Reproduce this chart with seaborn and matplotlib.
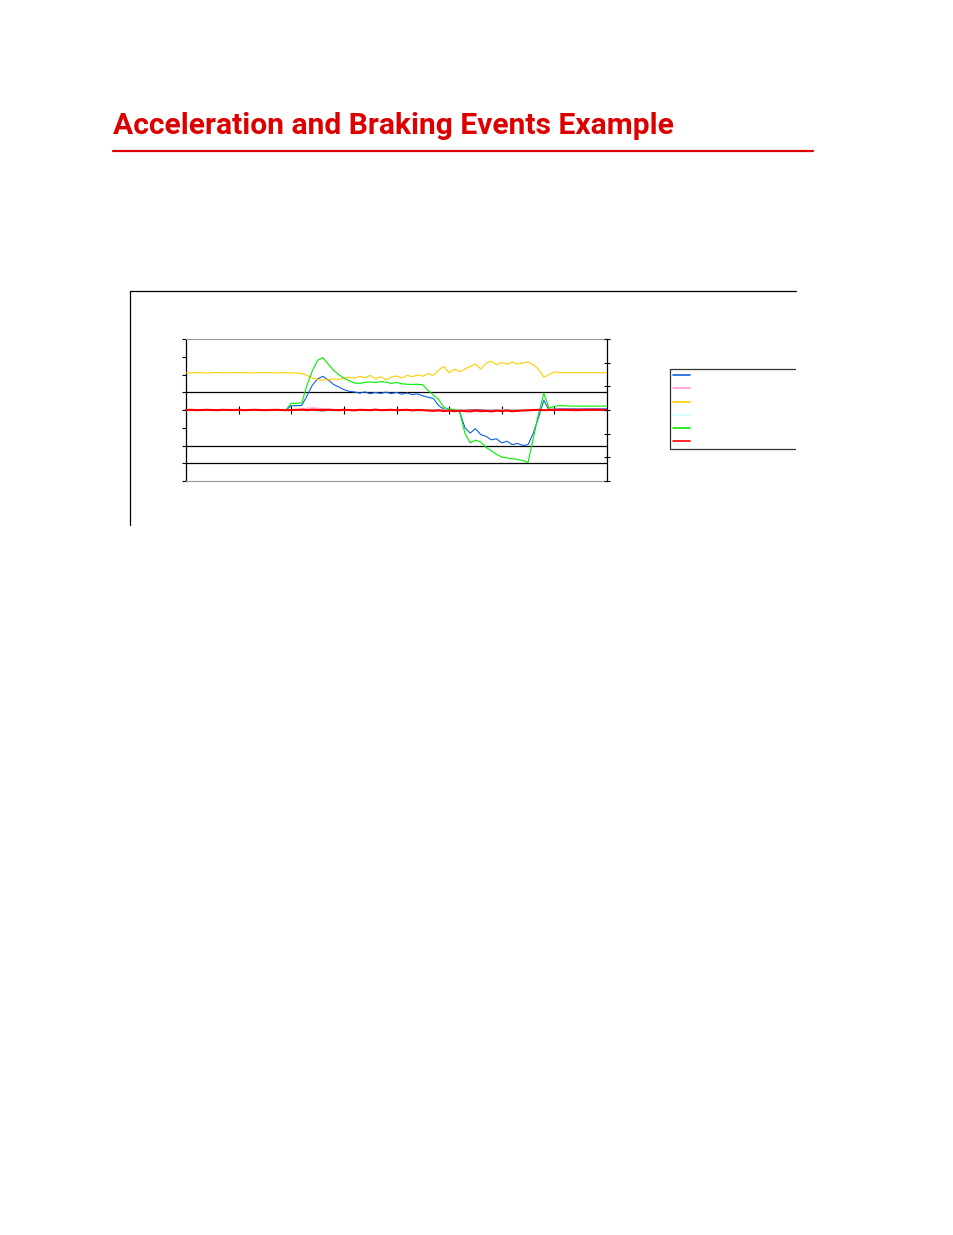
import matplotlib.pyplot as plt
import seaborn as sns
import numpy as np
import pandas as pd
from matplotlib.lines import Line2D
from matplotlib.transforms import Bbox, TransformedBbox

sns.set_theme(style='white')
plt.rcParams['font.family'] = ['Roboto', 'Liberation Sans', 'DejaVu Sans']

# time axis, one sample every 0.1 units (0 .. 8)
time = [round(i * 0.1, 1) for i in range(81)]

blue = [0.0] * 20 + [
    0.24, 0.24, 0.26, 0.80, 1.40, 1.75, 1.90, 1.70, 1.45, 1.30,
    1.15, 1.05, 1.02, 0.95, 1.02, 0.92, 0.99, 0.93, 1.01, 0.92,
    0.99, 0.89, 0.96, 0.87, 0.91, 0.80, 0.72, 0.65, 0.25, 0.05,
    0.02, 0.00, -0.10, -1.00, -1.30, -1.05, -1.38, -1.48, -1.68, -1.62,
    -1.85, -1.76, -1.95, -1.88, -2.00, -1.95, -1.30, -0.40, 0.55, -0.02,
    0.05, 0.08, 0.08, 0.08, 0.08, 0.08, 0.08, 0.08, 0.08, 0.08,
    0.08]

pink = [0.0] * 22 + [0.05, 0.10, 0.12, 0.10, 0.08, 0.06, 0.03] + [0.0] * 40 + \
    [0.04, 0.05, 0.05, 0.06, 0.05, 0.05, 0.06, 0.05, 0.05, 0.05, 0.05, 0.05]

yellow = [2.10, 2.09, 2.11, 2.10, 2.08, 2.10, 2.11, 2.09, 2.10, 2.10,
          2.11, 2.10, 2.09, 2.10, 2.10, 2.11, 2.10, 2.09, 2.10, 2.10,
          2.09, 2.08,
          2.05, 1.95, 1.80, 1.72, 1.68, 1.70, 1.75, 1.72, 1.80, 1.85,
          1.78, 1.90, 1.82, 1.95, 1.75, 1.88, 1.70, 1.85, 1.92, 1.80,
          1.95, 1.88, 1.98, 1.90, 2.05, 1.95, 2.25, 2.45, 2.10, 2.30,
          2.15, 2.30, 2.45, 2.60, 2.30, 2.62, 2.75, 2.55, 2.68, 2.58,
          2.70, 2.58, 2.66, 2.70, 2.55, 2.30, 1.85, 2.00, 2.15, 2.10,
          2.10, 2.10, 2.10, 2.10, 2.10, 2.10, 2.10, 2.10, 2.10]

cyan = [0.0] * 24 + [-0.04, -0.08, -0.08, -0.06, -0.08, -0.05, -0.03] + [0.0] * 23 + \
    [-0.05, -0.07, -0.04] + [0.0] * 24

green = [0.0] * 20 + [
    0.38, 0.38, 0.40, 1.40, 2.20, 2.80, 2.95, 2.60, 2.25, 2.00,
    1.80, 1.65, 1.52, 1.50, 1.55, 1.58, 1.55, 1.60, 1.57, 1.50,
    1.55, 1.48, 1.45, 1.44, 1.45, 1.42, 1.10, 0.85, 0.60, 0.15,
    0.05, 0.03, -0.10, -1.30, -1.85, -1.70, -1.80, -2.10, -2.30, -2.50,
    -2.65, -2.70, -2.75, -2.78, -2.85, -2.95, -1.60, -0.20, 0.95, 0.10,
    0.20, 0.25, 0.24, 0.22, 0.22, 0.22, 0.22, 0.22, 0.22, 0.22,
    0.22]

red = [0.00, 0.01, -0.01, 0.00, 0.01, 0.00, -0.01, 0.01, 0.00, 0.00,
       0.01, -0.01, 0.00, 0.01, 0.00, -0.01, 0.00, 0.01, 0.00, -0.01,
       0.00, 0.01, 0.02, -0.01, 0.02, 0.00, -0.02, 0.01, 0.00, -0.01,
       0.01, 0.00, -0.02, 0.01, 0.00, -0.01, 0.02, -0.01, 0.00, 0.01,
       -0.01, 0.00, 0.01, -0.02, 0.00, -0.01, -0.03, -0.05, -0.02, -0.06,
       -0.03, -0.07, -0.04, -0.06, -0.08, -0.03, -0.07, -0.05, -0.08, -0.04,
       -0.06, -0.03, -0.07, -0.05, -0.03, -0.02, 0.00, 0.01, -0.01, 0.00,
       0.01, 0.00, 0.01, 0.00, -0.01, 0.00, 0.01, 0.00, 0.01, 0.00,
       0.00]

series = {
    'blue': (blue, '#1060e0', 0.8),
    'pink': (pink, '#ff99cc', 0.8),
    'yellow': (yellow, '#ffcc00', 0.8),
    'cyan': (cyan, '#ccffff', 0.8),
    'green': (green, '#00ee00', 0.8),
    'red': (red, '#ff0000', 1.5),
}

df = pd.DataFrame({'time': time})
for name, (vals, _, _) in series.items():
    df[name] = vals

fig = plt.figure(figsize=(9.54, 12.35), dpi=100)

# title + rule
fig.text(113 / 954, 1 - 134 / 1235, 'Acceleration and Braking Events Example',
         color='#dd0000', fontsize=21.6, fontweight='bold', ha='left', va='baseline')
fig.add_artist(Line2D([113 / 954, 813 / 954], [1 - 151 / 1235] * 2,
                      color='#dd0000', lw=1.6))

# outer chart frame (left and top edges only show)
fig.add_artist(Line2D([130 / 954, 130 / 954, 796 / 954],
                      [1 - 525 / 1235, 1 - 291 / 1235, 1 - 291 / 1235],
                      color='black', lw=0.9))

ax = fig.add_axes([186 / 954, 1 - 481 / 1235, 421 / 954, 142 / 1235])
ax.set_xlim(0, 8)
ax.set_ylim(-4, 4)

for y in [1, -2, -3]:
    ax.axhline(y, color='black', lw=0.9, zorder=1)

handles = []
for name, (vals, col, lw) in series.items():
    sns.lineplot(data=df, x='time', y=name, color=col, lw=lw, ax=ax, zorder=3)
    handles.append(Line2D([], [], color=col, lw=1.2))

ax.set_xlabel('')
ax.set_ylabel('')
ax.set_yticks(np.arange(-4, 5, 1))
ax.set_yticklabels([])
ax.set_xticks([])
ax.tick_params(axis='y', direction='out', length=3, width=0.8, color='black', left=True)
for s in ['top', 'bottom']:
    ax.spines[s].set_color('#999999')
    ax.spines[s].set_linewidth(0.8)
ax.spines['left'].set_color('black')
ax.spines['right'].set_color('black')
ax.spines['left'].set_linewidth(0.9)
ax.spines['right'].set_linewidth(0.9)

# category axis crossing at zero
sec = ax.secondary_xaxis(0.5)
sec.set_xticks(np.arange(1, 8, 1))
sec.set_xticklabels([])
sec.tick_params(direction='out', length=3, width=0.8, color='black', bottom=True)
sec.spines['bottom'].set_visible(False)

# secondary value axis
ax2 = ax.twinx()
ax2.set_ylim(-3, 3)
ax2.set_yticks(np.arange(-3, 4, 1))
ax2.set_yticklabels([])
ax2.tick_params(axis='y', direction='inout', length=5, width=0.8, color='black', right=True)
for s in ax2.spines.values():
    s.set_visible(False)

leg = fig.legend(handles, [' '] * 6, loc='upper left', mode='expand',
                 bbox_to_anchor=(670 / 954, 1 - 450 / 1235, 150 / 954, 81 / 1235),
                 frameon=True, fancybox=False, fontsize=6, handlelength=2.0,
                 labelspacing=0.77, borderpad=0.4, handletextpad=0.5,
                 borderaxespad=0)
frame = leg.get_frame()
frame.set_edgecolor('black')
frame.set_linewidth(0.9)
frame.set_clip_box(TransformedBbox(Bbox([[0, 0], [796 / 954, 1]]), fig.transFigure))

fig.savefig('out.png', dpi=100)
